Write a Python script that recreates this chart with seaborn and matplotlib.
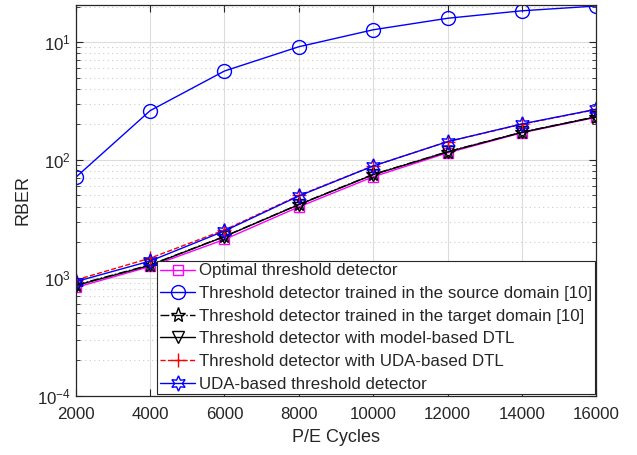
import numpy as np
import pandas as pd
import seaborn as sns
import matplotlib
matplotlib.use('Agg')
import matplotlib.pyplot as plt
from matplotlib.ticker import FixedLocator, FixedFormatter, LogLocator, NullFormatter

# P/E cycles and RBER values
pe_cycles = [2000, 4000, 6000, 8000, 10000, 12000, 14000, 16000]
optimal = [0.00083, 0.00125, 0.00212, 0.00400, 0.00720, 0.01150, 0.01700, 0.02300]
source_domain = [0.00713, 0.0262, 0.0568, 0.0912, 0.127, 0.159, 0.184, 0.202]
target_domain = [0.00087, 0.00129, 0.00225, 0.00420, 0.00755, 0.01175, 0.01720, 0.02330]
model_dtl = [0.00086, 0.00128, 0.00224, 0.00418, 0.00750, 0.01170, 0.01715, 0.02320]
uda_dtl = [0.00096, 0.00147, 0.00255, 0.00500, 0.00890, 0.01430, 0.02010, 0.02680]
uda_detector = [0.00093, 0.00139, 0.00250, 0.00495, 0.00889, 0.01430, 0.02020, 0.02690]

legend_labels = ['Optimal threshold detector',
                 'Threshold detector trained in the source domain [10]',
                 'Threshold detector trained in the target domain [10]',
                 'Threshold detector with model-based DTL',
                 'Threshold detector with UDA-based DTL',
                 'UDA-based threshold detector']

sns.set_theme(style='white')
plt.rcParams['font.family'] = ['Liberation Sans', 'DejaVu Sans']
plt.rcParams['mathtext.default'] = 'regular'

fig = plt.figure(figsize=(6.37, 4.55), dpi=100)
ax = fig.add_axes([0.119, 0.130, 0.817, 0.859])

hexagram = (6, 1, 0)
styles = [
    (optimal, dict(color='#ff00ff', marker='s', linestyle='-', ms=7)),
    (source_domain, dict(color='#0000ff', marker='o', linestyle='-', ms=10)),
    (target_domain, dict(color='black', marker='*', linestyle='-.', ms=11)),
    (model_dtl, dict(color='black', marker='v', linestyle='-', ms=9)),
    (uda_dtl, dict(color='#ff0000', marker='+', linestyle='--', ms=10)),
    (uda_detector, dict(color='#0000ff', marker=hexagram, linestyle='-', ms=11)),
]
for (vals, st), lab in zip(styles, legend_labels):
    df = pd.DataFrame({'pe': pe_cycles, 'rber': vals})
    sns.lineplot(data=df, x='pe', y='rber', ax=ax, label=lab, lw=1.0,
                 mfc='none', mec=st['color'], mew=1.0, **st)

ax.set_yscale('log')
ax.set_xlim(2000, 16000)
ax.set_ylim(1e-4, 0.206)
ax.set_xticks(pe_cycles)
ax.set_xticklabels([str(v) for v in pe_cycles])
ax.yaxis.set_major_locator(FixedLocator([1e-4, 1e-3, 1e-2, 1e-1]))
# labels as printed in the reference
ax.yaxis.set_major_formatter(FixedFormatter(['$10^{-4}$', '$10^{3}$', '$10^{2}$', '$10^{1}$']))
ax.yaxis.set_minor_locator(LogLocator(base=10, subs=np.arange(2, 10)))
ax.yaxis.set_minor_formatter(NullFormatter())

ax.grid(True, which='major', color='#dcdcdc', lw=0.8, ls='-')
ax.grid(True, which='minor', axis='y', color='#cccccc', lw=0.8, ls=(0, (1, 3)))
ax.set_axisbelow(True)

ax.tick_params(which='both', direction='in', top=True, right=True, bottom=True, left=True,
               labelsize=12.2, colors='#262626')
ax.tick_params(axis='x', pad=8)
ax.tick_params(which='major', length=5, width=0.8)
ax.tick_params(which='minor', length=3, width=0.6)
for sp in ax.spines.values():
    sp.set_color('#262626')
    sp.set_linewidth(0.9)

ax.set_xlabel('P/E Cycles', fontsize=13, color='#262626', labelpad=5)
ax.set_ylabel('RBER', fontsize=13, color='#262626', labelpad=4)

leg = ax.legend(loc='lower right', fontsize=12.2, frameon=True, fancybox=False,
                framealpha=1, edgecolor='#262626', borderaxespad=0.1,
                handlelength=2.1, handletextpad=0.2, labelspacing=0.45, borderpad=0.15)
leg.get_frame().set_linewidth(0.8)

fig.savefig('out.png', dpi=100)
